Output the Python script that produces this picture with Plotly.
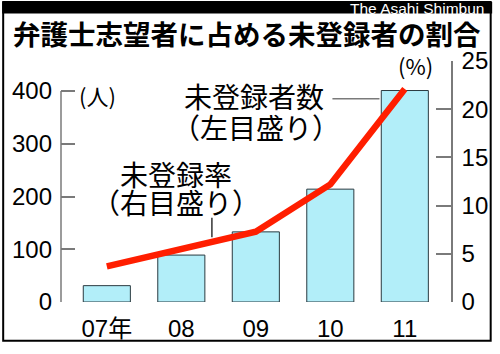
import plotly.graph_objects as go

# ---- data ----
years = ["07年", "08", "09", "10", "11"]
unregistered = [31, 89, 133, 214, 401]          # 未登録者数 (人, left axis)
rate = [3.7, 5.5, 7.3, 12.2, 22.1]              # 未登録率 (%, right axis)
left_ticks = [0, 100, 200, 300, 400]
right_ticks = [0, 5, 10, 15, 20, 25]

W, H = 500, 354
L, R, T, B = 60, 42, 61, 44
PW, PH = W - L - R, H - T - B


def px(x):
    return (x - L) / PW


def py(y):
    return (H - B - y) / PH


JP = "Noto Sans CJK JP, Noto Sans CJK SC, sans-serif"
NUM = "Liberation Sans, Arial, Noto Sans CJK JP, sans-serif"
GRAY = "#7a7a7a"

xs = list(range(len(years)))

fig = go.Figure()
fig.add_trace(go.Bar(
    x=xs, y=unregistered, width=0.632,
    marker=dict(color="#b2eef9", line=dict(color="#2a3a40", width=1)),
    yaxis="y", showlegend=False, hoverinfo="skip",
))
fig.add_trace(go.Scatter(
    x=xs, y=rate, mode="lines",
    line=dict(color="#ff1e00", width=6.5),
    yaxis="y2", showlegend=False, hoverinfo="skip",
))

fig.update_layout(
    width=W, height=H,
    margin=dict(l=L, r=R, t=T, b=B, pad=0),
    paper_bgcolor="white", plot_bgcolor="white",
    font=dict(family=NUM, color="black", size=24),
    xaxis=dict(
        range=[-0.615, 4.62], tickmode="array", tickvals=xs, ticktext=years,
        showgrid=False, zeroline=False, showline=False, ticks="",
        tickfont=dict(family=NUM, size=24), ticklabelstandoff=10,
    ),
    yaxis=dict(
        range=[0, 457], tickmode="array", tickvals=left_ticks,
        showgrid=False, zeroline=False, showline=False,
        ticks="inside", ticklen=14, tickwidth=1.5, tickcolor=GRAY,
        tickfont=dict(family=NUM, size=24), ticklabelstandoff=8,
    ),
    yaxis2=dict(
        range=[0, 25], overlaying="y", side="right", tickmode="array",
        tickvals=right_ticks, showgrid=False, zeroline=False,
        showline=True, linecolor=GRAY, linewidth=1.5,
        ticks="inside", ticklen=15, tickwidth=1.5, tickcolor=GRAY,
        tickfont=dict(family=NUM, size=24), ticklabelstandoff=4,
    ),
)

shapes = [
    # left axis line (0..400 only)
    dict(type="line", xref="paper", yref="y", x0=0, x1=0, y0=0, y1=400,
         line=dict(color=GRAY, width=1.5)),
    # top black band
    dict(type="rect", xref="paper", yref="paper", x0=px(0), x1=px(W),
         y0=py(12), y1=py(0), fillcolor="black", line=dict(width=0), layer="above"),
    # frame
    dict(type="rect", xref="paper", yref="paper", x0=px(1), x1=px(498.5),
         y0=py(350), y1=py(0), line=dict(color="black", width=2), fillcolor="rgba(0,0,0,0)"),
    # leader lines
    dict(type="line", xref="paper", yref="paper", x0=px(337), x1=px(385),
         y0=py(100), y1=py(100), line=dict(color=GRAY, width=1.5)),
    dict(type="line", xref="paper", yref="paper", x0=px(214), x1=px(214),
         y0=py(223), y1=py(243), line=dict(color="#333333", width=1.5)),
]
fig.update_layout(shapes=shapes)

ann = [
    dict(text="The Asahi Shimbun", x=px(494), y=py(6.5), xanchor="right", yanchor="middle",
         font=dict(family="Liberation Sans, Arial, sans-serif", size=15.5, color="white")),
    dict(text="<b>弁護士志望者に占める未登録者の割合</b>", x=px(9), y=py(32), xanchor="left",
         yanchor="middle", font=dict(family=JP, size=27.5, color="black")),
    dict(text="(人)", x=px(97), y=py(96), xanchor="center", yanchor="middle",
         font=dict(family=JP, size=22)),
    dict(text="(%)", x=px(422), y=py(65), xanchor="center", yanchor="middle",
         font=dict(family=JP, size=22)),
    dict(text="未登録者数", x=px(257), y=py(97), xanchor="center", yanchor="middle",
         font=dict(family=JP, size=28)),
    dict(text="（左目盛り）", x=px(259), y=py(129), xanchor="center", yanchor="middle",
         font=dict(family=JP, size=28)),
    dict(text="未登録率", x=px(177.5), y=py(178), xanchor="center", yanchor="middle",
         font=dict(family=JP, size=28)),
    dict(text="（右目盛り）", x=px(177.5), y=py(207), xanchor="center", yanchor="middle",
         font=dict(family=JP, size=28)),
]
for a in ann:
    a.update(xref="paper", yref="paper", showarrow=False)
fig.update_layout(annotations=ann)

fig.write_html("out.html")
